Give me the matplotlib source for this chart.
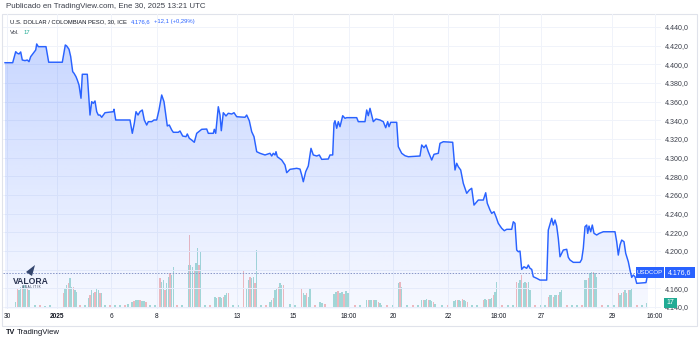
import numpy as np
import matplotlib
matplotlib.use("Agg")
import matplotlib.pyplot as plt
from matplotlib.patches import Rectangle, Polygon
from matplotlib.text import Annotation
from matplotlib.ticker import FixedLocator, FuncFormatter

plt.rcParams['font.family'] = ['Liberation Sans', 'DejaVu Sans']

# USD/COP close, 30-minute bars: (bar position on the session-compressed scale, price)
close_series = [
    (0, 4401.7), (7.7, 4401.7), (10.7, 4413.5), (12.3, 4411.8), (14, 4411.1), (15.7, 4413.2),
    (17.3, 4404.6), (20, 4403.9), (22.3, 4404.6), (24, 4402.8), (25.7, 4408.2), (28.3, 4411.8),
    (30.7, 4415.3), (31.7, 4421.8), (33.3, 4418.9), (41, 4418.9), (43.7, 4402.2), (57.3, 4402.2),
    (60.3, 4420.7), (61.7, 4419.6), (64, 4416.1), (65.7, 4408.2), (67.7, 4392.1), (69, 4390.4),
    (71, 4386.7), (72.3, 4383.2), (74, 4377.8), (76, 4363.6), (77.3, 4389.3), (82.3, 4389.3),
    (83.3, 4372.5), (85, 4345.6), (86.7, 4359.9), (88.3, 4358.2), (90, 4360.7), (91.7, 4349.2),
    (93.3, 4345.6), (95, 4345.6), (96.7, 4343.2), (100, 4348.1), (108.3, 4349.2), (109, 4351.8),
    (110.7, 4340.3), (125, 4340.3), (127.3, 4326.0), (129.3, 4336.7), (131, 4349.2),
    (133, 4345.6), (135, 4349.2), (137.3, 4351.0), (139.3, 4340.3), (141.7, 4334.9),
    (143.3, 4338.5), (146.7, 4338.5), (149, 4340.3), (151.7, 4340.3), (154, 4351.0),
    (156.7, 4367.1), (159, 4359.9), (161, 4343.8), (162.3, 4333.9), (164.3, 4334.9),
    (166.7, 4329.6), (168.3, 4327.1), (173.3, 4327.1), (175, 4328.5), (177.7, 4323.1),
    (181, 4322.4), (182.3, 4325.3), (184.3, 4320.7), (186.7, 4318.8), (189.3, 4316.4),
    (191.7, 4326.0), (196.7, 4330.3), (201.7, 4330.6), (203.3, 4326.0), (208.3, 4326.0),
    (209.3, 4330.3), (210.7, 4326.0), (213.3, 4354.5), (215, 4345.6), (216.3, 4328.8),
    (218.3, 4348.1), (221, 4344.6), (223.3, 4347.5), (226.7, 4346.7), (229, 4348.1),
    (231.7, 4343.8), (240, 4343.2), (241.7, 4345.6), (244.3, 4339.5), (246.7, 4327.7),
    (249, 4322.4), (251.7, 4306.3), (255, 4304.6), (260, 4302.8), (265, 4304.6),
    (266.7, 4301.7), (268.3, 4304.6), (270, 4302.8), (271, 4306.3), (272.3, 4300.9),
    (276.7, 4297.4), (280, 4292.0), (281.7, 4283.8), (285, 4287.4), (291.7, 4288.5),
    (295, 4287.7), (296.7, 4281.3), (298.3, 4274.1), (300.7, 4284.9), (303.3, 4291.0),
    (306, 4309.9), (308.3, 4302.8), (311.7, 4301.7), (314.3, 4302.8), (316.7, 4298.1),
    (323.3, 4298.5), (325, 4302.8), (327.7, 4302.8), (329, 4336.7), (330, 4339.5),
    (331.7, 4331.4), (333.3, 4338.5), (335, 4333.1), (337.7, 4344.9), (340, 4342.1),
    (341.7, 4342.8), (351.7, 4342.8), (353.3, 4338.5), (360, 4338.5), (361.7, 4351.0),
    (363.3, 4344.9), (365, 4352.8), (366.7, 4345.6), (368.3, 4338.5), (371, 4341.4),
    (375, 4340.3), (378.3, 4338.5), (380.7, 4332.0), (382.7, 4338.5), (384, 4333.1),
    (385.7, 4337.8), (391.7, 4337.8), (393.3, 4311.7), (396.7, 4304.6), (400, 4302.0),
    (403.3, 4300.9), (415, 4301.7), (416.7, 4313.5), (419, 4310.6), (421, 4313.5),
    (423.3, 4306.3), (426.7, 4297.4), (429, 4303.5), (433.3, 4304.6), (435, 4315.3),
    (438.3, 4317.0), (447.7, 4316.4), (450, 4286.7), (451.7, 4293.9), (453.3, 4290.2),
    (455.7, 4286.7), (458.3, 4272.4), (461.7, 4261.7), (464.3, 4265.2), (466.7, 4267.1),
    (469, 4249.1), (473.3, 4254.5), (478.3, 4254.5), (480.7, 4262.3), (482.3, 4251.0),
    (485, 4243.8), (486.7, 4240.2), (489, 4242.0), (491, 4236.6), (493.3, 4229.5),
    (496.7, 4224.2), (499.3, 4221.6), (501.7, 4223.1), (506.7, 4223.1), (508.3, 4231.2),
    (510, 4229.5), (511.7, 4200.9), (513.3, 4199.1), (515, 4199.8), (516.7, 4180.2),
    (519, 4183.0), (521.7, 4181.3), (523.3, 4184.8), (525, 4181.3), (526.7, 4180.2),
    (528.3, 4172.3), (531.7, 4170.6), (535, 4168.7), (541.7, 4168.7), (543.3, 4222.3),
    (546.7, 4234.9), (548.3, 4227.7), (550, 4233.1), (551.7, 4226.6), (553.3, 4213.4),
    (555, 4193.7), (556.7, 4197.4), (558.3, 4200.9), (561.7, 4201.7), (563.3, 4193.1),
    (565, 4190.2), (568.3, 4187.7), (575, 4187.7), (576.7, 4190.9), (578.3, 4202.7),
    (580, 4225.9), (581.7, 4227.7), (582.7, 4218.8), (584, 4226.6), (585.7, 4220.5),
    (587.3, 4227.7), (589, 4218.8), (591.7, 4217.0), (594.3, 4218.8), (598.3, 4220.5),
    (610, 4220.5), (611.7, 4209.8), (613.3, 4195.5), (615, 4206.3), (616.7, 4211.6),
    (619, 4209.8), (620.7, 4197.4), (623.3, 4188.4), (625, 4179.5), (626.7, 4171.6),
    (628.3, 4174.1), (630, 4172.3), (631.7, 4165.2), (641, 4166.0), (643, 4176.6),
]

# traded volume per bar: (bar position, volume)
volume_bars = [
    (10.7, 5), (12.3, 18.3), (14, 16.7), (15.7, 20), (17.3, 18.3), (19, 21.7), (20.7, 20),
    (22.3, 18.3), (24, 16.7), (30, 1.5), (35, 1.5), (40, 1), (45, 1.5),
    (58.3, 13.3), (60, 18.3), (61.7, 21.7), (63.3, 23.3), (65, 28.3), (66.7, 20), (68.3, 20),
    (70, 16.7), (71.7, 15), (75, 1.5), (80, 1.5),
    (83.3, 8.3), (85, 11.7), (86.7, 16.7), (88.3, 13.3), (90, 15), (91.7, 18.3), (93.3, 16.7),
    (95, 13.3), (96.7, 13.3), (100, 2), (105, 1.5), (110, 2), (115, 1.5), (120, 2), (123, 3),
    (127, 5), (129, 6), (131, 7), (133, 6.5), (135, 7), (137, 6), (139, 6), (141, 5),
    (145, 1.5), (150, 1.5),
    (155, 28.3), (156.7, 25), (158.3, 26.7), (160, 16.7), (161.7, 23.3), (163.3, 30),
    (165, 33.3), (166.7, 31.7), (168.3, 40), (172, 1.5), (177, 1.5),
    (183.3, 41.7), (184.3, 71.7), (185.7, 41.7), (187.7, 40), (189.3, 36.7), (191, 43.3),
    (192.3, 58.3), (194, 41.7), (195.7, 55), (200, 1.5), (205, 1.5),
    (210, 10), (211.7, 8.3), (213.3, 10), (215, 10), (216.7, 8.3), (218.3, 10), (220, 11.7),
    (221.7, 13.3), (223.3, 13.3), (228, 1.5), (233, 1.5),
    (238.3, 36.7), (241.7, 18.3), (243.3, 26.7), (245, 30), (246.7, 28.3), (248.3, 30),
    (250, 23.3), (251.7, 56.7), (256, 1.5), (261, 1.5),
    (265, 5), (266.7, 6.7), (268.3, 8.3), (270, 16.7), (271.7, 18.3), (273.3, 20),
    (275, 23.3), (276.7, 21.7), (278.3, 21.7), (285, 3), (290, 2),
    (296.7, 18.3), (298.3, 13.3), (300, 11.7), (301.7, 13.3), (303.3, 10), (305, 18.3),
    (310, 1.5), (315, 5), (317, 4), (320, 3),
    (329, 13), (331, 15), (333, 16), (335, 14), (337, 15), (339, 13), (341, 16), (343, 14),
    (350, 1.5), (355, 1.5),
    (361.7, 6.7), (363.3, 7), (365, 6.7), (366.7, 7), (368.3, 6.7), (370, 6.7), (371.7, 7),
    (373.3, 5), (375, 3.3), (376.7, 2), (382, 1.5), (388, 1.5),
    (393.3, 23.3), (395, 25), (396.7, 20), (402, 1.5), (408, 1.5), (413, 1.5),
    (416.7, 6.7), (418.3, 7), (420, 6.7), (421.7, 7.3), (423.3, 6.7), (425, 6.7), (426.7, 6),
    (428.3, 5), (430, 3), (437, 1.5), (443, 1.5),
    (449, 6), (450.7, 7), (452.3, 6.7), (454, 7), (455.7, 5.3), (457.3, 7.3), (459, 6.7),
    (460.7, 6), (462.3, 5), (467, 1.5), (472, 1.5),
    (478.3, 6.7), (480, 7.3), (481.7, 6.7), (483.3, 8), (485, 7.3), (486.7, 9), (488.3, 12),
    (490, 15), (491.7, 25), (497, 1.5), (503, 1.5), (508, 1.5),
    (511.7, 25), (513.3, 23.3), (515, 26.7), (516.7, 31.7), (518.3, 23.3), (520, 25),
    (521.7, 23.3), (523.3, 25), (525, 16.7), (530, 1.5), (536, 1.5), (540, 1.5),
    (543.3, 10), (545, 11.7), (546.7, 11.7), (548.3, 10), (550, 11.7), (551.7, 11.7),
    (553.3, 11.7), (555, 15), (556.7, 16.7), (562, 1.5), (567, 1.5), (572, 1.5), (577, 1.5),
    (580, 26.7), (581.7, 26.7), (583.3, 28.3), (585, 33.3), (586.7, 35), (588.3, 35),
    (590, 33.3), (591.7, 30), (597, 1.5), (603, 1.5), (609, 1.5),
    (613.3, 13.3), (615, 11.7), (616.7, 13.3), (618.3, 15), (620, 16.7), (621.7, 13.3),
    (623.3, 16.7), (625, 16.7), (626.7, 18.3), (632, 1.5), (637, 1.5), (641.7, 3.3),
]

price_ticks = [4140, 4160, 4180, 4200, 4220, 4240, 4260, 4280, 4300, 4320, 4340, 4360,
               4380, 4400, 4420, 4440]
time_ticks = [2, 52, 106, 152, 232, 288, 344, 388, 443, 494, 536, 607, 650]
time_labels = ['30', '2025', '6', '8', '13', '15', '18:00', '20', '22', '18:00', '27',
               '29', '16:00']
symbol = 'USDCOP'
last_price = 4176.6
last_change = '+12,1 (+0,29%)'
last_volume = 17

t = [p[0] for p in close_series]
price = [p[1] for p in close_series]
vol_t = [v[0] for v in volume_bars]
volume = [v[1] for v in volume_bars]

BLUE = '#2962FF'
TEAL = '#22ab94'
W, H = 700, 341


def fx(px):
    return px / W


def fy(py):
    return 1 - py / H


def euro_fmt(v):
    return f"{v:,.1f}".replace(',', 'X').replace('.', ',').replace('X', '.')


def tag(x0, x1, yc, h, text, color, size):
    fig.patches.append(Rectangle((fx(x0), yc - h / 2 / H), (x1 - x0) / W, h / H,
                                 transform=fig.transFigure, fc=color, ec='none',
                                 zorder=9))
    fig.text(fx((x0 + x1) / 2), yc, text, color='white', fontsize=size,
             ha='center', va='center', zorder=10)


fig = plt.figure(figsize=(7, 3.41), dpi=100)
fig.patch.set_facecolor('white')

rect = [fx(3), fy(309), (661 - 3) / W, (309 - 14) / H]
xmin, xmax = -2, 656
ymin, ymax = 4137.7, 4453.9

# volume pane, drawn behind the price line
axv = fig.add_axes(rect, zorder=0)
up = '#a8dcd6'
dn = '#f6bcbc'
colors = [up if i % 3 != 1 else dn for i in range(len(vol_t))]
axv.bar(vol_t, volume, width=1.1, color=colors, linewidth=0)
axv.set_xlim(xmin, xmax)
axv.set_ylim(-2.3, 292.7)
axv.axis('off')

# price pane
ax = fig.add_axes(rect, zorder=1)
ax.patch.set_alpha(0)

for v in price_ticks:
    ax.axhline(v, color='#f0f3fa', lw=0.7, zorder=0)
for v in time_ticks:
    ax.axvline(v, color='#f0f3fa', lw=0.7, zorder=0)

# gradient area under the line
poly = ax.fill_between(t, price, ymin, color='none', lw=0)
clip = poly.get_paths()[0]
n = 256
grad = np.zeros((n, 1, 4))
grad[:, 0, :3] = matplotlib.colors.to_rgb(BLUE)
grad[:, 0, 3] = np.linspace(0.04, 0.28, n)
im = ax.imshow(grad, extent=[xmin, xmax, ymin, ymax], origin='lower',
               aspect='auto', zorder=1, interpolation='bilinear')
im.set_clip_path(clip, transform=ax.transData)

ax.plot(t, price, color=BLUE, lw=1.05, zorder=3, solid_joinstyle='round')
ax.axhline(last_price, color='#8796c8', lw=0.7, ls=(0, (1.5, 1.5)), zorder=2)

ax.set_xlim(xmin, xmax)
ax.set_ylim(ymin, ymax)
for s in ax.spines.values():
    s.set_visible(False)

ax.yaxis.tick_right()
ax.yaxis.set_major_locator(FixedLocator(price_ticks))
ax.yaxis.set_major_formatter(FuncFormatter(lambda v, p: euro_fmt(v)))
ax.tick_params(axis='y', length=0, pad=3, labelsize=5.1, labelcolor='#3b3f4a')
ax.set_xticks(time_ticks)
ax.set_xticklabels(time_labels)
ax.tick_params(axis='x', length=0, pad=3.2, labelsize=4.7, labelcolor='#131722')
for lab in ax.get_xticklabels():
    if lab.get_text() == '2025':
        lab.set_fontweight('bold')

# symbol and last price tags on the price scale
lbl_y = ax.transData.transform((0, last_price))[1]
tag_y = fig.transFigure.inverted().transform((0, lbl_y))[1]
tag(636, 664, tag_y, 11, symbol, BLUE, 4.4)
tag(665, 695, tag_y, 11, euro_fmt(last_price), BLUE, 5.0)
tag(664, 677, fy(302.5), 10, str(last_volume), TEAL, 5.0)

# chart frame
fig.patches.append(Rectangle((fx(2), fy(326)), (697 - 2) / W, (326 - 14) / H,
                             transform=fig.transFigure, fill=False, ec='#e0e3eb',
                             lw=0.8, zorder=0))

# header
fig.text(fx(6), fy(7), 'Publicado en TradingView.com, Ene 30, 2025 13:21 UTC',
         fontsize=5.7, color='#3b3f4a', ha='left', va='center')
title = fig.text(fx(10), fy(22), 'U.S. DOLLAR / COLOMBIAN PESO, 30, ICE',
                 fontsize=4.2, color='#131722', ha='left', va='center')
ann1 = fig.add_artist(Annotation(
    euro_fmt(last_price), xy=(1, 0.5), xycoords=title, xytext=(3, 0),
    textcoords='offset points', fontsize=4.2, color=BLUE, ha='left', va='center'))
fig.add_artist(Annotation(
    last_change, xy=(1, 0.5), xycoords=ann1, xytext=(2.5, 0),
    textcoords='offset points', fontsize=4.2, color=BLUE, ha='left', va='center'))
fig.text(fx(10), fy(32), 'Vol.', fontsize=4.2, color='#3b3f4a', ha='left', va='center')
fig.text(fx(24), fy(32), str(last_volume), fontsize=4.2, color=TEAL, ha='left',
         va='center')

# watermark logo
plane = Polygon([[fx(26), fy(272)], [fx(35), fy(265)], [fx(32), fy(276)]], closed=True,
                transform=fig.transFigure, fc='#34466e', ec='none', zorder=5)
fig.patches.append(plane)
fig.text(fx(31), fy(281), 'VALORA', fontsize=6.2, fontweight='bold',
         color='#2a3350', ha='center', va='center', zorder=5)
fig.text(fx(31), fy(287), 'A N A L I T I K', fontsize=2.2, color='#2a3350',
         ha='center', va='center', zorder=5)

# footer
fig.text(fx(6), fy(333), 'TV', fontsize=5.2, fontweight='bold', color='#131722',
         ha='left', va='center')
fig.text(fx(17), fy(333), 'TradingView', fontsize=5.6, color='#131722', ha='left',
         va='center')

fig.savefig('out.png', dpi=100, facecolor='white')
